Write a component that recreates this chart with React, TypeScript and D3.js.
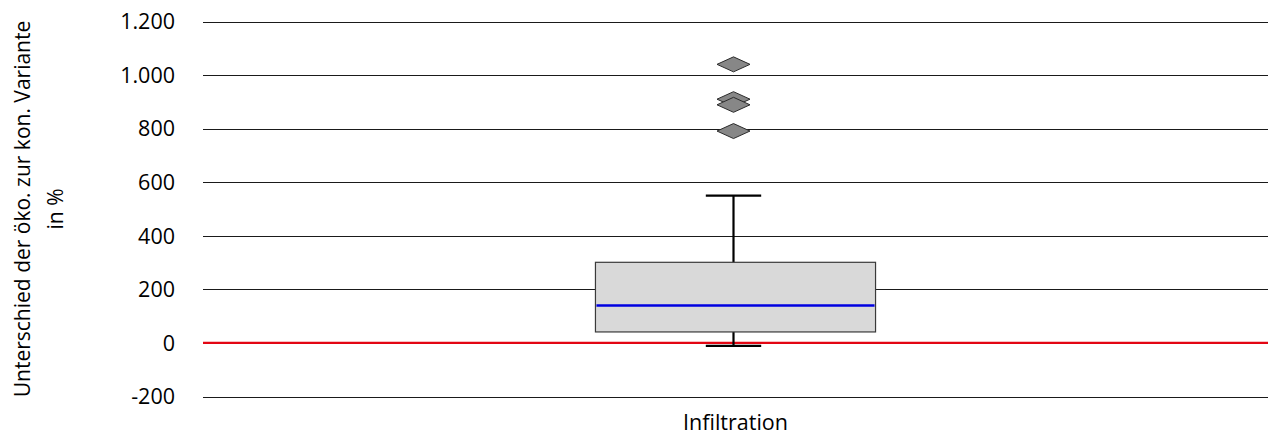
import React, { useEffect, useRef } from "react";
import * as d3 from "d3";

// values
const categories = ["Infiltration"];
const lowerWhisker = [-11];
const quartile1 = [41];
const medians = [140];
const quartile3 = [301];
const upperWhisker = [550];
const outliers = [[1040, 910, 889, 791]];
const yTicks = [-200, 0, 200, 400, 600, 800, 1000, 1200];

const W = 1268;
const H = 435;
const FONT = "'Open Sans', 'Noto Sans', sans-serif";

const App = () => {
    const svgRef = useRef<SVGSVGElement | null>(null);

    useEffect(() => {
        document.body.style.margin = "0";
        const svg = d3.select(svgRef.current);
        svg.selectAll("*").remove();

        const margin = { top: 21.5, right: 0, bottom: 38.5, left: 203 };

        const x = d3.scaleBand<string>()
            .domain(categories)
            .range([margin.left, W - margin.right]);

        const y = d3.scaleLinear()
            .domain([-200, 1200])
            .range([H - margin.bottom, margin.top]);

        // German thousands separator, plain hyphen for negatives
        const fmt = (v: number) => {
            const s = String(Math.abs(v)).replace(/\B(?=(\d{3})+(?!\d))/g, ".");
            return (v < 0 ? "-" : "") + s;
        };

        // gridlines
        svg.append("g")
            .selectAll("line")
            .data(yTicks)
            .enter()
            .append("line")
            .attr("x1", margin.left)
            .attr("x2", W - margin.right)
            .attr("y1", d => Math.round(y(d)) + 0.5)
            .attr("y2", d => Math.round(y(d)) + 0.5)
            .attr("stroke", "#1a1a1a")
            .attr("stroke-width", 1);

        // tick labels
        svg.append("g")
            .selectAll("text")
            .data(yTicks)
            .enter()
            .append("text")
            .attr("x", 175)
            .attr("y", d => y(d))
            .attr("dy", "0.36em")
            .attr("text-anchor", "end")
            .attr("font-family", FONT)
            .attr("font-size", 21.5)
            .attr("fill", "#000")
            .text(d => fmt(d));

        // zero line
        svg.append("line")
            .attr("x1", margin.left)
            .attr("x2", W - margin.right)
            .attr("y1", y(0))
            .attr("y2", y(0))
            .attr("stroke", "#e30613")
            .attr("stroke-width", 2.2);

        const boxW = x.bandwidth() * 0.263;
        const capW = x.bandwidth() * 0.052;

        const g = svg.append("g")
            .selectAll("g")
            .data(categories)
            .enter()
            .append("g");

        g.each(function (cat, i) {
            const grp = d3.select(this);
            const cx = (x(cat) as number) + x.bandwidth() / 2 - 2;

            // whisker lines
            grp.append("line")
                .attr("x1", cx).attr("x2", cx)
                .attr("y1", y(upperWhisker[i])).attr("y2", y(quartile3[i]))
                .attr("stroke", "#000").attr("stroke-width", 2.2);
            grp.append("line")
                .attr("x1", cx).attr("x2", cx)
                .attr("y1", y(quartile1[i])).attr("y2", y(lowerWhisker[i]))
                .attr("stroke", "#000").attr("stroke-width", 2.2);
            [upperWhisker[i], lowerWhisker[i]].forEach(v => {
                grp.append("line")
                    .attr("x1", cx - capW / 2).attr("x2", cx + capW / 2)
                    .attr("y1", y(v)).attr("y2", y(v))
                    .attr("stroke", "#000").attr("stroke-width", 2.2);
            });

            // box
            grp.append("rect")
                .attr("x", cx + 2 - boxW / 2)
                .attr("width", boxW)
                .attr("y", y(quartile3[i]))
                .attr("height", y(quartile1[i]) - y(quartile3[i]))
                .attr("fill", "#d9d9d9")
                .attr("stroke", "#3a3a3a")
                .attr("stroke-width", 1.2);

            // median
            grp.append("line")
                .attr("x1", cx + 2 - boxW / 2 + 1).attr("x2", cx + 2 + boxW / 2 - 1)
                .attr("y1", y(medians[i])).attr("y2", y(medians[i]))
                .attr("stroke", "#0000e0").attr("stroke-width", 2.4);

            // outliers as diamonds
            grp.selectAll("path.out")
                .data(outliers[i])
                .enter()
                .append("path")
                .attr("class", "out")
                .attr("d", v => {
                    const py = y(v);
                    const hw = 16.5, hh = 7.5;
                    return `M${cx - hw},${py}L${cx},${py - hh}L${cx + hw},${py}L${cx},${py + hh}Z`;
                })
                .attr("fill", "#878787")
                .attr("stroke", "#2b2b2b")
                .attr("stroke-width", 1);
        });

        // category labels
        svg.append("g")
            .selectAll("text")
            .data(categories)
            .enter()
            .append("text")
            .attr("x", d => (x(d) as number) + x.bandwidth() / 2)
            .attr("y", 430)
            .attr("text-anchor", "middle")
            .attr("font-family", FONT)
            .attr("font-size", 21.5)
            .attr("fill", "#000")
            .text(d => d);

        // y axis title
        const midY = (y(-200) + y(1200)) / 2;
        const title = svg.append("text")
            .attr("transform", `translate(0, ${midY}) rotate(-90)`)
            .attr("text-anchor", "middle")
            .attr("font-family", FONT)
            .attr("font-size", 21)
            .attr("fill", "#000");
        title.append("tspan").attr("x", 0).attr("y", 30).text("Unterschied der öko. zur kon. Variante");
        title.append("tspan").attr("x", 0).attr("y", 63).text("in %");
    }, []);

    return (
        <svg
            ref={svgRef}
            width={W}
            height={H}
            style={{ display: "block", position: "absolute", left: 0, top: 0, background: "#fff" }}
        />
    );
};

export default App;
